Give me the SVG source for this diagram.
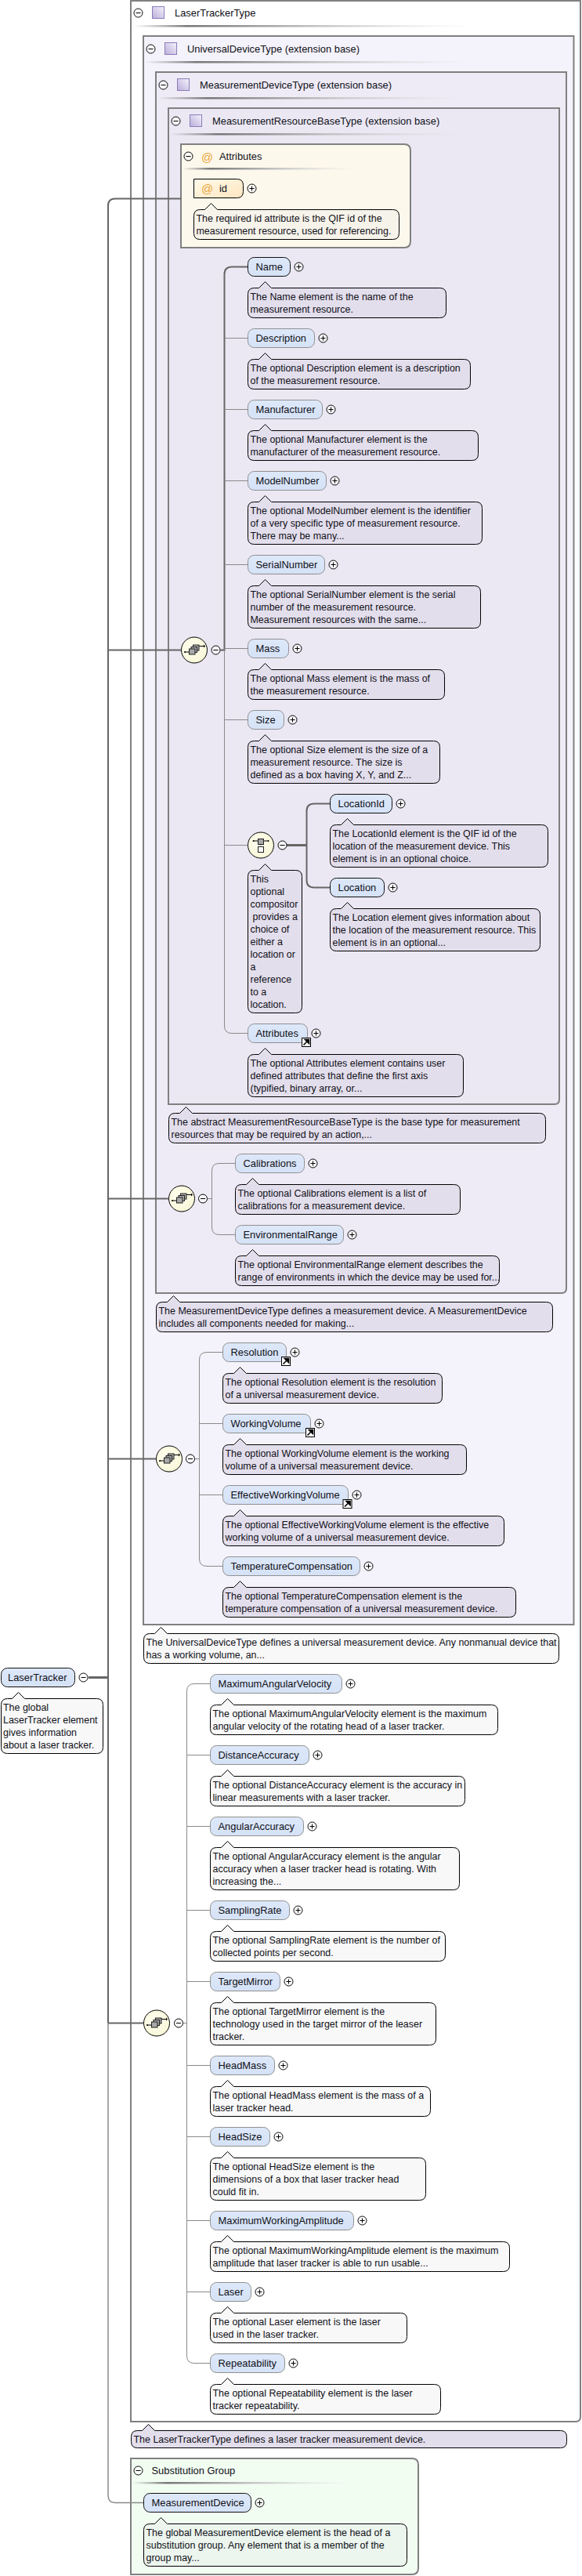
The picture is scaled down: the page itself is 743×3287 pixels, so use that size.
<svg xmlns="http://www.w3.org/2000/svg" width="743" height="3287" viewBox="0 0 743 3287">
<style>
text{font-family:"Liberation Sans",Arial,sans-serif;font-size:12.45px;fill:#101018}
rect+text,use+text,.at+text{font-size:12.9px}
.fr{stroke:#808080;stroke-width:2}
.el{fill:url(#elg);stroke:#909090}
.rq{fill:url(#elg);stroke:#111}
.cp{fill:#e3deec;stroke:#000}
.cw{fill:#f8f8f8;stroke:#000}
.cy{fill:#f6f3ea;stroke:#000}
.cg{fill:#ecf5ee;stroke:#000}
.thick{fill:none;stroke:#666;stroke-width:2}
.thin{fill:none;stroke:#8a8a8a;stroke-width:1}
.at{fill:#eda53a;font-size:15px}
</style>
<defs>
<linearGradient id="elg" x1="0" y1="0" x2="0" y2="1"><stop offset="0" stop-color="#dde8f9"/><stop offset="1" stop-color="#d5e2f6"/></linearGradient>
<linearGradient id="ylg" x1="0" y1="0" x2="1" y2="1"><stop offset="0" stop-color="#fffaea"/><stop offset="1" stop-color="#fde6c0"/></linearGradient>
<linearGradient id="sqg" x1="0" y1="1" x2="1" y2="0"><stop offset="0" stop-color="#b9add9"/><stop offset="1" stop-color="#f5f3fc"/></linearGradient>
<linearGradient id="sep"><stop offset="0" stop-color="#808080" stop-opacity="0"/><stop offset=".16" stop-color="#777"/><stop offset=".55" stop-color="#c4c4c4"/><stop offset="1" stop-color="#ddd" stop-opacity="0"/></linearGradient>
<radialGradient id="cmp" cx=".4" cy=".4" r=".7"><stop offset="0" stop-color="#ffffef"/><stop offset="1" stop-color="#f8f6d6"/></radialGradient>
<g id="plus"><circle r="5.5" fill="#fff" fill-opacity=".6" stroke="#000"/><path d="M-3 0H3M0-3V3" stroke="#000" fill="none"/></g>
<g id="minus"><circle r="5.5" fill="#fff" fill-opacity=".6" stroke="#000"/><path d="M-3 0H3" stroke="#000" fill="none"/></g>
<rect id="sq" width="15" height="15" fill="url(#sqg)" stroke="#8a7cbb"/>
<g id="link"><rect x=".5" y=".5" width="11" height="11" fill="#fff" stroke="#000"/><path d="M2.5 9.5L7.5 4.5M4.5 2.5H9.5V7.5Z" stroke="#000" stroke-width="1.6" fill="#000"/></g>
<g id="seq"><circle r="16.5" fill="url(#cmp)" stroke="#000"/><path d="M-12 2.5H-6M6 -5H12" stroke="#000" fill="none"/><circle cx="-12" cy="2.5" r="1" fill="#000"/><path d="M12-7L14-5L12-3Z" fill="#000"/><rect x="-1.5" y="-6.5" width="7.5" height="7" fill="#a8a8a8" stroke="#222"/><rect x="-4" y="-4" width="7.5" height="7" fill="#a8a8a8" stroke="#222"/><rect x="-6.5" y="-1.5" width="7.5" height="7" fill="#a8a8a8" stroke="#222"/></g>
<g id="cho"><circle r="16.5" fill="url(#cmp)" stroke="#000"/><path d="M-9.5-5.5H9.5M0-8V0" stroke="#000" fill="none"/><circle cx="-9.5" cy="-5.5" r="1" fill="#000"/><circle cx="9.5" cy="-5.5" r="1" fill="#000"/><rect x="-3.5" y="-8" width="7" height="7" fill="#a8a8a8" stroke="#222"/><rect x="-3.5" y="2" width="7" height="7" fill="#fff" stroke="#222"/></g>
</defs>

<g id="frames">
<path class="fr" fill="#fff" d="M167 1H741V3084q0 6-6 6H167Z"/>
<path class="fr" fill="#f4f2fa" d="M183 46H732.500V2073H183Z"/>
<path class="fr" fill="#eeebf6" d="M199 92H723V1644q0 6-6 6H199Z"/>
<path class="fr" fill="#ebe8f4" d="M215 138H714V1403q0 6-6 6H215Z"/>
<path class="fr" fill="#fdf8ec" d="M231 184H516q8 0 8 8V308q0 8-8 8H231Z"/>
<path class="fr" fill="#f2fdf2" d="M167 3137H526q8 0 8 8V3277q0 8-8 8H167Z"/>
<rect x="170" y="32" width="430" height="2.500" fill="url(#sep)"/>
<rect x="185" y="78" width="412" height="2.500" fill="url(#sep)"/>
<rect x="201" y="124" width="394" height="2.500" fill="url(#sep)"/>
<rect x="217" y="170" width="376" height="2.500" fill="url(#sep)"/>
<rect x="233" y="214" width="219" height="2.500" fill="url(#sep)"/>
<rect x="169" y="3167" width="276" height="2.500" fill="url(#sep)"/>
</g>

<g id="connectors">
<path class="thick" stroke-width="2" d="M231 253.500H147Q138 253.500 138 262.500V2581.500"/>
<path class="thin" style="stroke-width:1.500" d="M138 2581.500V3184Q138 3193.500 147 3193.500H183"/>
<path class="thick" d="M113 2140.500H138" style="stroke-width:3"/>
<path class="thick" d="M138 829.500H231M138 1529.500H215M138 1861.500H199M138 2581.500H183"/>
<path class="thick" d="M281.500 829.500H286.500V350Q286.500 340.500 296 340.500H316.500"/>
<path class="thin" d="M286.500 829.500V1309Q286.500 1318.500 296 1318.500H316.500M286.500 431.500H316.500M286.500 522.500H316.500M286.500 613.500H316.500M286.500 720.500H316.500M286.500 827.500H316.500M286.500 918.500H316.500M286.500 1078.500H316.500"/>
<path class="thick" d="M366 1078.500H391.500" style="stroke-width:3"/>
<path class="thick" d="M421.500 1025.500H401Q391.500 1025.500 391.500 1035V1123Q391.500 1132.500 401 1132.500H421.500"/>
<path class="thin" d="M265 1529.500H270.500M300.500 1484.500H280Q270.500 1484.500 270.500 1494V1566Q270.500 1575.500 280 1575.500H300.500"/>
<path class="thin" d="M249 1861.500H254.500M284.500 1725.500H264Q254.500 1725.500 254.500 1735V1989Q254.500 1998.500 264 1998.500H284.500M254.500 1816.500H284.500M254.500 1907.500H284.500"/>
<path class="thin" d="M234 2581.500H238.500M268.500 2148.500H248Q238.500 2148.500 238.500 2158V3006Q238.500 3015.500 248 3015.500H268.500M238.500 2239.500H268.500M238.500 2330.500H268.500M238.500 2437.500H268.500M238.500 2528.500H268.500M238.500 2635.500H268.500M238.500 2726.500H268.500M238.500 2833.500H268.500M238.500 2924.500H268.500"/>
</g>

<g id="LaserTrackerType-head"><use href="#minus" x="176.500" y="16.500"/><use href="#sq" x="194.500" y="8.500"/><text x="223" y="21">LaserTrackerType</text></g>
<g id="UniversalDeviceType-head"><use href="#minus" x="192.500" y="62.500"/><use href="#sq" x="210.500" y="54.500"/><text x="239" y="67">UniversalDeviceType (extension base)</text></g>
<g id="MeasurementDeviceType-head"><use href="#minus" x="208.500" y="108.500"/><use href="#sq" x="226.500" y="100.500"/><text x="255" y="113">MeasurementDeviceType (extension base)</text></g>
<g id="MeasurementResourceBaseType-head"><use href="#minus" x="224.500" y="154.500"/><use href="#sq" x="242.500" y="146.500"/><text x="271" y="159">MeasurementResourceBaseType (extension base)</text></g>
<g id="Attributes-group"><use href="#minus" x="240.500" y="199.500"/><text class="at" x="257" y="206">@</text><text x="280" y="204">Attributes</text></g>
<g id="attr-id"><path d="M247.500 228.500H302.500q8 0 8 8v8q0 8-8 8H247.500Z" fill="url(#ylg)" stroke="#000"/><text class="at" x="257" y="246">@</text><text x="280" y="245">id</text><use href="#plus" x="321.500" y="240.500"/>
<path class="cy" d="M247.500 275.500q0-8 8-8h6l8-8 8 8h224q8 0 8 8v22q0 8-8 8h-246q-8 0-8-8z"/><text x="250.500" y="283">The required id attribute is the QIF id of the</text><text x="250.500" y="299">measurement resource, used for referencing.</text></g>

<g id="Name"><rect class="rq" x="316.500" y="328.500" width="54" height="24" rx="8"/><text x="326.500" y="345">Name</text><use href="#plus" x="381.500" y="340.500"/>
<path class="cp" d="M316.500 375.500q0-8 8-8h6l8-8 8 8h215q8 0 8 8v22q0 8-8 8h-237q-8 0-8-8z"/><text x="319.500" y="383">The Name element is the name of the</text><text x="319.500" y="399">measurement resource.</text></g>
<g id="Description"><rect class="el" x="316.500" y="419.500" width="85" height="24" rx="8"/><text x="326.500" y="436">Description</text><use href="#plus" x="412.500" y="431.500"/>
<path class="cp" d="M316.500 466.500q0-8 8-8h6l8-8 8 8h246q8 0 8 8v22q0 8-8 8h-268q-8 0-8-8z"/><text x="319.500" y="474">The optional Description element is a description</text><text x="319.500" y="490">of the measurement resource.</text></g>
<g id="Manufacturer"><rect class="el" x="316.500" y="510.500" width="95" height="24" rx="8"/><text x="326.500" y="527">Manufacturer</text><use href="#plus" x="422.500" y="522.500"/>
<path class="cp" d="M316.500 557.500q0-8 8-8h6l8-8 8 8h256q8 0 8 8v22q0 8-8 8h-278q-8 0-8-8z"/><text x="319.500" y="565">The optional Manufacturer element is the</text><text x="319.500" y="581">manufacturer of the measurement resource.</text></g>
<g id="ModelNumber"><rect class="el" x="316.500" y="601.500" width="100" height="24" rx="8"/><text x="326.500" y="618">ModelNumber</text><use href="#plus" x="427.500" y="613.500"/>
<path class="cp" d="M316.500 648.500q0-8 8-8h6l8-8 8 8h261q8 0 8 8v38q0 8-8 8h-283q-8 0-8-8z"/><text x="319.500" y="656">The optional ModelNumber element is the identifier</text><text x="319.500" y="672">of a very specific type of measurement resource.</text><text x="319.500" y="688">There may be many...</text></g>
<g id="SerialNumber"><rect class="el" x="316.500" y="708.500" width="98" height="24" rx="8"/><text x="326.500" y="725">SerialNumber</text><use href="#plus" x="425.500" y="720.500"/>
<path class="cp" d="M316.500 755.500q0-8 8-8h6l8-8 8 8h259q8 0 8 8v38q0 8-8 8h-281q-8 0-8-8z"/><text x="319.500" y="763">The optional SerialNumber element is the serial</text><text x="319.500" y="779">number of the measurement resource.</text><text x="319.500" y="795">Measurement resources with the same...</text></g>
<g id="Mass"><rect class="el" x="316.500" y="815.500" width="52" height="24" rx="8"/><text x="326.500" y="832">Mass</text><use href="#plus" x="379.500" y="827.500"/>
<path class="cp" d="M316.500 862.500q0-8 8-8h6l8-8 8 8h213q8 0 8 8v22q0 8-8 8h-235q-8 0-8-8z"/><text x="319.500" y="870">The optional Mass element is the mass of</text><text x="319.500" y="886">the measurement resource.</text></g>
<g id="Size"><rect class="el" x="316.500" y="906.500" width="46" height="24" rx="8"/><text x="326.500" y="923">Size</text><use href="#plus" x="373.500" y="918.500"/>
<path class="cp" d="M316.500 953.500q0-8 8-8h6l8-8 8 8h207q8 0 8 8v38q0 8-8 8h-229q-8 0-8-8z"/><text x="319.500" y="961">The optional Size element is the size of a</text><text x="319.500" y="977">measurement resource. The size is</text><text x="319.500" y="993">defined as a box having X, Y, and Z...</text></g>
<g id="Compositor-seq-1"><use href="#seq" x="248" y="829.500"/><use href="#minus" x="275.500" y="829.500"/></g>
<g id="Compositor-choice"><use href="#cho" x="333" y="1078.500"/><use href="#minus" x="360.500" y="1078.500"/>
<path class="cp" d="M316.500 1118.500q0-8 8-8h6l8-8 8 8h31q8 0 8 8v166q0 8-8 8h-53q-8 0-8-8z"/><text x="319.500" y="1126">This</text><text x="319.500" y="1142">optional</text><text x="319.500" y="1158">compositor</text><text x="322.500" y="1174">provides a</text><text x="319.500" y="1190">choice of</text><text x="319.500" y="1206">either a</text><text x="319.500" y="1222">location or</text><text x="319.500" y="1238">a</text><text x="319.500" y="1254">reference</text><text x="319.500" y="1270">to a</text><text x="319.500" y="1286">location.</text></g>
<g id="LocationId"><rect class="rq" x="421.500" y="1013.500" width="79" height="24" rx="8"/><text x="431.500" y="1030">LocationId</text><use href="#plus" x="511.500" y="1025.500"/>
<path class="cp" d="M421.500 1060.500q0-8 8-8h6l8-8 8 8h240q8 0 8 8v38q0 8-8 8h-262q-8 0-8-8z"/><text x="424.500" y="1068">The LocationId element is the QIF id of the</text><text x="424.500" y="1084">location of the measurement device. This</text><text x="424.500" y="1100">element is in an optional choice.</text></g>
<g id="Location"><rect class="rq" x="421.500" y="1120.500" width="69" height="24" rx="8"/><text x="431.500" y="1137">Location</text><use href="#plus" x="501.500" y="1132.500"/>
<path class="cp" d="M421.500 1167.500q0-8 8-8h6l8-8 8 8h230q8 0 8 8v38q0 8-8 8h-252q-8 0-8-8z"/><text x="424.500" y="1175">The Location element gives information about</text><text x="424.500" y="1191">the location of the measurement resource. This</text><text x="424.500" y="1207">element is in an optional...</text></g>
<g id="Attributes"><rect class="el" x="316.500" y="1306.500" width="76" height="24" rx="8"/><text x="326.500" y="1323">Attributes</text><use href="#plus" x="403.500" y="1318.500"/><use href="#link" x="385" y="1324"/>
<path class="cp" d="M316.500 1353.500q0-8 8-8h6l8-8 8 8h237q8 0 8 8v38q0 8-8 8h-259q-8 0-8-8z"/><text x="319.500" y="1361">The optional Attributes element contains user</text><text x="319.500" y="1377">defined attributes that define the first axis</text><text x="319.500" y="1393">(typified, binary array, or...</text></g>
<g id="MeasurementResourceBaseType-note"><path class="cp" d="M215.500 1428.500q0-8 8-8h6l8-8 8 8h443q8 0 8 8v22q0 8-8 8h-465q-8 0-8-8z"/><text x="218.500" y="1436">The abstract MeasurementResourceBaseType is the base type for measurement</text><text x="218.500" y="1452">resources that may be required by an action,...</text></g>

<g id="Compositor-seq-2"><use href="#seq" x="232" y="1529.500"/><use href="#minus" x="259" y="1529.500"/></g>
<g id="Calibrations"><rect class="el" x="300.500" y="1472.500" width="88" height="24" rx="8"/><text x="310.500" y="1489">Calibrations</text><use href="#plus" x="399.500" y="1484.500"/>
<path class="cp" d="M300.500 1519.500q0-8 8-8h6l8-8 8 8h249q8 0 8 8v22q0 8-8 8h-271q-8 0-8-8z"/><text x="303.500" y="1527">The optional Calibrations element is a list of</text><text x="303.500" y="1543">calibrations for a measurement device.</text></g>
<g id="EnvironmentalRange"><rect class="el" x="300.500" y="1563.500" width="138" height="24" rx="8"/><text x="310.500" y="1580">EnvironmentalRange</text><use href="#plus" x="449.500" y="1575.500"/>
<path class="cp" d="M300.500 1610.500q0-8 8-8h6l8-8 8 8h299q8 0 8 8v22q0 8-8 8h-321q-8 0-8-8z"/><text x="303.500" y="1618">The optional EnvironmentalRange element describes the</text><text x="303.500" y="1634">range of environments in which the device may be used for...</text></g>
<g id="MeasurementDeviceType-note"><path class="cp" d="M199.500 1669.500q0-8 8-8h6l8-8 8 8h468q8 0 8 8v22q0 8-8 8h-490q-8 0-8-8z"/><text x="202.500" y="1677">The MeasurementDeviceType defines a measurement device. A MeasurementDevice</text><text x="202.500" y="1693">includes all components needed for making...</text></g>

<g id="Compositor-seq-3"><use href="#seq" x="216" y="1861.500"/><use href="#minus" x="243" y="1861.500"/></g>
<g id="Resolution"><rect class="el" x="284.500" y="1713.500" width="81" height="24" rx="8"/><text x="294.500" y="1730">Resolution</text><use href="#plus" x="376.500" y="1725.500"/><use href="#link" x="359" y="1731"/>
<path class="cp" d="M284.500 1760.500q0-8 8-8h6l8-8 8 8h242q8 0 8 8v22q0 8-8 8h-264q-8 0-8-8z"/><text x="287.500" y="1768">The optional Resolution element is the resolution</text><text x="287.500" y="1784">of a universal measurement device.</text></g>
<g id="WorkingVolume"><rect class="el" x="284.500" y="1804.500" width="112" height="24" rx="8"/><text x="294.500" y="1821">WorkingVolume</text><use href="#plus" x="407.500" y="1816.500"/><use href="#link" x="390" y="1822"/>
<path class="cp" d="M284.500 1851.500q0-8 8-8h6l8-8 8 8h273q8 0 8 8v22q0 8-8 8h-295q-8 0-8-8z"/><text x="287.500" y="1859">The optional WorkingVolume element is the working</text><text x="287.500" y="1875">volume of a universal measurement device.</text></g>
<g id="EffectiveWorkingVolume"><rect class="el" x="284.500" y="1895.500" width="160" height="24" rx="8"/><text x="294.500" y="1912">EffectiveWorkingVolume</text><use href="#plus" x="455.500" y="1907.500"/><use href="#link" x="437.500" y="1913"/>
<path class="cp" d="M284.500 1942.500q0-8 8-8h6l8-8 8 8h321q8 0 8 8v22q0 8-8 8h-343q-8 0-8-8z"/><text x="287.500" y="1950">The optional EffectiveWorkingVolume element is the effective</text><text x="287.500" y="1966">working volume of a universal measurement device.</text></g>
<g id="TemperatureCompensation"><rect class="el" x="284.500" y="1986.500" width="175" height="24" rx="8"/><text x="294.500" y="2003">TemperatureCompensation</text><use href="#plus" x="470.500" y="1998.500"/>
<path class="cp" d="M284.500 2033.500q0-8 8-8h6l8-8 8 8h336q8 0 8 8v22q0 8-8 8h-358q-8 0-8-8z"/><text x="287.500" y="2041">The optional TemperatureCompensation element is the</text><text x="287.500" y="2057">temperature compensation of a universal measurement device.</text></g>
<g id="UniversalDeviceType-note"><path class="cw" d="M183.500 2092.500q0-8 8-8h6l8-8 8 8h492q8 0 8 8v22q0 8-8 8h-514q-8 0-8-8z"/><text x="186.500" y="2100">The UniversalDeviceType defines a universal measurement device. Any nonmanual device that</text><text x="186.500" y="2116">has a working volume, an...</text></g>

<g id="LaserTracker"><rect class="rq" x="1.500" y="2128.500" width="94" height="24" rx="8"/><text x="10" y="2145">LaserTracker</text><use href="#minus" x="106.500" y="2140.500"/>
<path class="cw" d="M1.500 2175.500q0-8 8-8h6l8-8 8 8h92q8 0 8 8v54q0 8-8 8h-114q-8 0-8-8z"/><text x="4" y="2183">The global</text><text x="4" y="2199">LaserTracker element</text><text x="4" y="2215">gives information</text><text x="4" y="2231">about a laser tracker.</text></g>

<g id="Compositor-seq-4"><use href="#seq" x="200" y="2581.500"/><use href="#minus" x="228" y="2581.500"/></g>
<g id="MaximumAngularVelocity"><rect class="el" x="268.500" y="2136.500" width="168" height="24" rx="8"/><text x="278.500" y="2153">MaximumAngularVelocity</text><use href="#plus" x="447.500" y="2148.500"/>
<path class="cw" d="M268.500 2183.500q0-8 8-8h6l8-8 8 8h329q8 0 8 8v22q0 8-8 8h-351q-8 0-8-8z"/><text x="271.500" y="2191">The optional MaximumAngularVelocity element is the maximum</text><text x="271.500" y="2207">angular velocity of the rotating head of a laser tracker.</text></g>
<g id="DistanceAccuracy"><rect class="el" x="268.500" y="2227.500" width="126" height="24" rx="8"/><text x="278.500" y="2244">DistanceAccuracy</text><use href="#plus" x="405.500" y="2239.500"/>
<path class="cw" d="M268.500 2274.500q0-8 8-8h6l8-8 8 8h287q8 0 8 8v22q0 8-8 8h-309q-8 0-8-8z"/><text x="271.500" y="2282">The optional DistanceAccuracy element is the accuracy in</text><text x="271.500" y="2298">linear measurements with a laser tracker.</text></g>
<g id="AngularAccuracy"><rect class="el" x="268.500" y="2318.500" width="119" height="24" rx="8"/><text x="278.500" y="2335">AngularAccuracy</text><use href="#plus" x="398.500" y="2330.500"/>
<path class="cw" d="M268.500 2365.500q0-8 8-8h6l8-8 8 8h280q8 0 8 8v38q0 8-8 8h-302q-8 0-8-8z"/><text x="271.500" y="2373">The optional AngularAccuracy element is the angular</text><text x="271.500" y="2389">accuracy when a laser tracker head is rotating. With</text><text x="271.500" y="2405">increasing the...</text></g>
<g id="SamplingRate"><rect class="el" x="268.500" y="2425.500" width="101" height="24" rx="8"/><text x="278.500" y="2442">SamplingRate</text><use href="#plus" x="380.500" y="2437.500"/>
<path class="cw" d="M268.500 2472.500q0-8 8-8h6l8-8 8 8h262q8 0 8 8v22q0 8-8 8h-284q-8 0-8-8z"/><text x="271.500" y="2480">The optional SamplingRate element is the number of</text><text x="271.500" y="2496">collected points per second.</text></g>
<g id="TargetMirror"><rect class="el" x="268.500" y="2516.500" width="89" height="24" rx="8"/><text x="278.500" y="2533">TargetMirror</text><use href="#plus" x="368.500" y="2528.500"/>
<path class="cw" d="M268.500 2563.500q0-8 8-8h6l8-8 8 8h250q8 0 8 8v38q0 8-8 8h-272q-8 0-8-8z"/><text x="271.500" y="2571">The optional TargetMirror element is the</text><text x="271.500" y="2587">technology used in the target mirror of the leaser</text><text x="271.500" y="2603">tracker.</text></g>
<g id="HeadMass"><rect class="el" x="268.500" y="2623.500" width="82" height="24" rx="8"/><text x="278.500" y="2640">HeadMass</text><use href="#plus" x="361.500" y="2635.500"/>
<path class="cw" d="M268.500 2670.500q0-8 8-8h6l8-8 8 8h243q8 0 8 8v22q0 8-8 8h-265q-8 0-8-8z"/><text x="271.500" y="2678">The optional HeadMass element is the mass of a</text><text x="271.500" y="2694">laser tracker head.</text></g>
<g id="HeadSize"><rect class="el" x="268.500" y="2714.500" width="76" height="24" rx="8"/><text x="278.500" y="2731">HeadSize</text><use href="#plus" x="355.500" y="2726.500"/>
<path class="cw" d="M268.500 2761.500q0-8 8-8h6l8-8 8 8h237q8 0 8 8v38q0 8-8 8h-259q-8 0-8-8z"/><text x="271.500" y="2769">The optional HeadSize element is the</text><text x="271.500" y="2785">dimensions of a box that laser tracker head</text><text x="271.500" y="2801">could fit in.</text></g>
<g id="MaximumWorkingAmplitude"><rect class="el" x="268.500" y="2821.500" width="183" height="24" rx="8"/><text x="278.500" y="2838">MaximumWorkingAmplitude</text><use href="#plus" x="462.500" y="2833.500"/>
<path class="cw" d="M268.500 2868.500q0-8 8-8h6l8-8 8 8h344q8 0 8 8v22q0 8-8 8h-366q-8 0-8-8z"/><text x="271.500" y="2876">The optional MaximumWorkingAmplitude element is the maximum</text><text x="271.500" y="2892">amplitude that laser tracker is able to run usable...</text></g>
<g id="Laser"><rect class="el" x="268.500" y="2912.500" width="52" height="24" rx="8"/><text x="278.500" y="2929">Laser</text><use href="#plus" x="331.500" y="2924.500"/>
<path class="cw" d="M268.500 2959.500q0-8 8-8h6l8-8 8 8h213q8 0 8 8v22q0 8-8 8h-235q-8 0-8-8z"/><text x="271.500" y="2967">The optional Laser element is the laser</text><text x="271.500" y="2983">used in the laser tracker.</text></g>
<g id="Repeatability"><rect class="el" x="268.500" y="3003.500" width="95" height="24" rx="8"/><text x="278.500" y="3020">Repeatability</text><use href="#plus" x="374.500" y="3015.500"/>
<path class="cw" d="M268.500 3050.500q0-8 8-8h6l8-8 8 8h256q8 0 8 8v22q0 8-8 8h-278q-8 0-8-8z"/><text x="271.500" y="3058">The optional Repeatability element is the laser</text><text x="271.500" y="3074">tracker repeatability.</text></g>
<g id="LaserTrackerType-note"><path class="cp" d="M167.500 3109.500q0-8 8-8h6l8-8 8 8h518q8 0 8 8v6q0 8-8 8h-540q-8 0-8-8z"/><text x="170.500" y="3117">The LaserTrackerType defines a laser tracker measurement device.</text></g>

<g id="SubstitutionGroup-head"><use href="#minus" x="176.500" y="3152.500"/><text x="193.500" y="3157">Substitution Group</text></g>
<g id="MeasurementDevice"><rect class="rq" x="183.500" y="3181.500" width="137" height="24" rx="8"/><text x="193.500" y="3198">MeasurementDevice</text><use href="#plus" x="331.500" y="3193.500"/>
<path class="cg" d="M183.500 3228.500q0-8 8-8h6l8-8 8 8h298q8 0 8 8v38q0 8-8 8h-320q-8 0-8-8z"/><text x="186.500" y="3236">The global MeasurementDevice element is the head of a</text><text x="186.500" y="3252">substitution group. Any element that is a member of the</text><text x="186.500" y="3268">group may...</text></g>
</svg>
